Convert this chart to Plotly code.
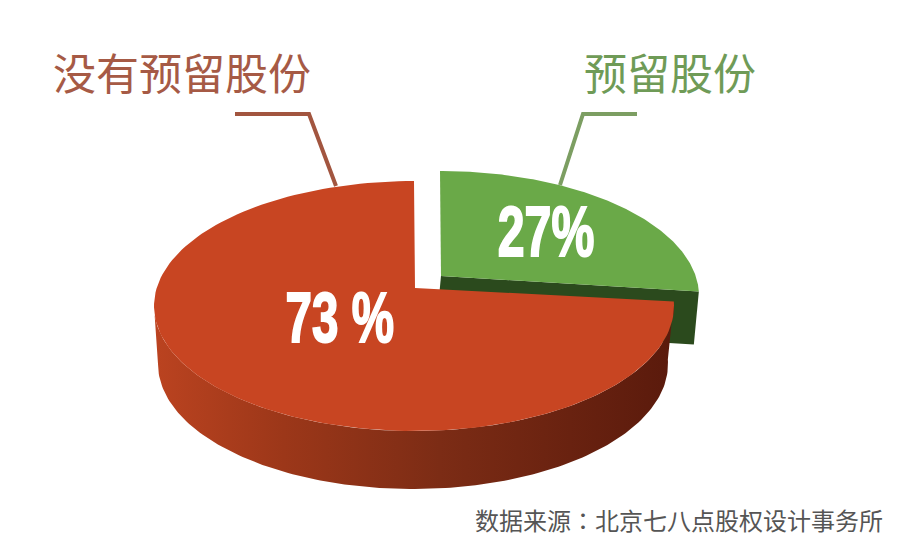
import numpy as np
import plotly.graph_objects as go

# 饼图数据
slice_names = ["预留股份", "没有预留股份"]
slice_shares = [27, 73]
slice_labels = ["27%", "73 %"]
source_text = "数据来源<span style=\"font-family:'Noto Sans CJK TC'\">：</span>北京七八点股权设计事务所"

# 透视造成的视角压缩, 切面方向不等于真实角度
VIEW_SQUASH = 0.905
end_angle = slice_shares[0] / sum(slice_shares) * 360 * VIEW_SQUASH

TOP_RED = dict(cx=414, cy=306, rx=260, ry=125)
BOTTOM_RED = dict(cx=413, cy=364, rx=255, ry=125)
TOP_GREEN = dict(cx=440, cy=296, rx=259, ry=125)
APEX_RED = (415, 288)
APEX_GREEN = (441, 276)
GREEN_DEPTH = (-5, 53)


def arc(ell, start, stop, n=160):
    """椭圆弧上的点, 角度从正上方顺时针计算"""
    t = np.radians(np.linspace(start, stop, n))
    return ell["cx"] + ell["rx"] * np.sin(t), ell["cy"] - ell["ry"] * np.cos(t)


def poly(x, y, color=None, gradient=None):
    kw = dict(fillgradient=gradient) if gradient else dict(fillcolor=color)
    return go.Scatter(x=x, y=y, mode="lines", fill="toself", line=dict(width=0),
                      hoverinfo="skip", showlegend=False, **kw)


fig = go.Figure()

# 绿色切面的深色侧壁
gx, gy = arc(TOP_GREEN, 0, end_angle)
end_x, end_y = gx[-1], gy[-1]
fig.add_trace(poly(
    [APEX_GREEN[0], end_x, end_x + GREEN_DEPTH[0], APEX_GREEN[0] + GREEN_DEPTH[0]],
    [APEX_GREEN[1], end_y, end_y + GREEN_DEPTH[1], APEX_GREEN[1] + GREEN_DEPTH[1]],
    color="#2b4a1d",
))

# 绿色顶面
fig.add_trace(poly(
    np.r_[APEX_GREEN[0], gx],
    np.r_[APEX_GREEN[1], gy],
    color="#6aa948",
))

# 红色侧壁 (横向渐变)
sx1, sy1 = arc(TOP_RED, end_angle, 270)
sx2, sy2 = arc(BOTTOM_RED, 270, end_angle)
fig.add_trace(poly(
    np.r_[sx1, sx2],
    np.r_[sy1, sy2],
    gradient=dict(
        type="horizontal",
        colorscale=[[0, "#bb4320"], [0.25, "#9c3719"], [0.55, "#7c2c15"], [1, "#5a1a0c"]],
    ),
))

# 红色顶面
rx, ry = arc(TOP_RED, end_angle, 360)
fig.add_trace(poly(
    np.r_[APEX_RED[0], rx],
    np.r_[APEX_RED[1], ry],
    color="#c84522",
))

# 引线
fig.add_trace(go.Scatter(x=[235, 309, 336], y=[114, 114, 186], mode="lines",
                         line=dict(color="#a2553f", width=4), hoverinfo="skip", showlegend=False))
fig.add_trace(go.Scatter(x=[637, 583, 560], y=[114, 114, 185], mode="lines",
                         line=dict(color="#7c9e62", width=4), hoverinfo="skip", showlegend=False))


def label(x, y, text, size, color, family="Noto Sans CJK SC"):
    fig.add_annotation(x=x, y=y, text=text, showarrow=False, xanchor="center", yanchor="middle",
                       font=dict(size=size, color=color, family=family))


label(182, 71, slice_names[1], 43, "#a65a45")
label(670, 71, slice_names[0], 43, "#6f9b57")
label(546, 231, f"<b>{slice_labels[0]}</b>", 71, "#ffffff", "Liberation Sans")
label(340, 318, f"<b>{slice_labels[1]}</b>", 70, "#ffffff", "Liberation Sans")
label(679, 519, source_text, 24, "#555555")

fig.update_layout(
    width=897,
    height=544,
    margin=dict(l=0, r=0, t=0, b=0),
    paper_bgcolor="white",
    plot_bgcolor="white",
    showlegend=False,
    xaxis=dict(range=[0, 897], visible=False, fixedrange=True),
    yaxis=dict(range=[544, 0], visible=False, fixedrange=True),
)

# 去掉页面边距; 百分比文字收窄加粗, 模仿原图的窄黑体
post_js = """
document.body.style.margin = '0';
document.querySelectorAll('.annotation-text').forEach(function (el) {
  if (el.textContent.indexOf('%') >= 0) {
    el.style.transformBox = 'fill-box';
    el.style.transformOrigin = 'center';
    el.style.transform = 'scaleX(0.68)';
    el.style.stroke = '#ffffff';
    el.style.strokeWidth = '2px';
  }
});
"""
fig.write_html("out.html", post_script=post_js, config=dict(displayModeBar=False))
